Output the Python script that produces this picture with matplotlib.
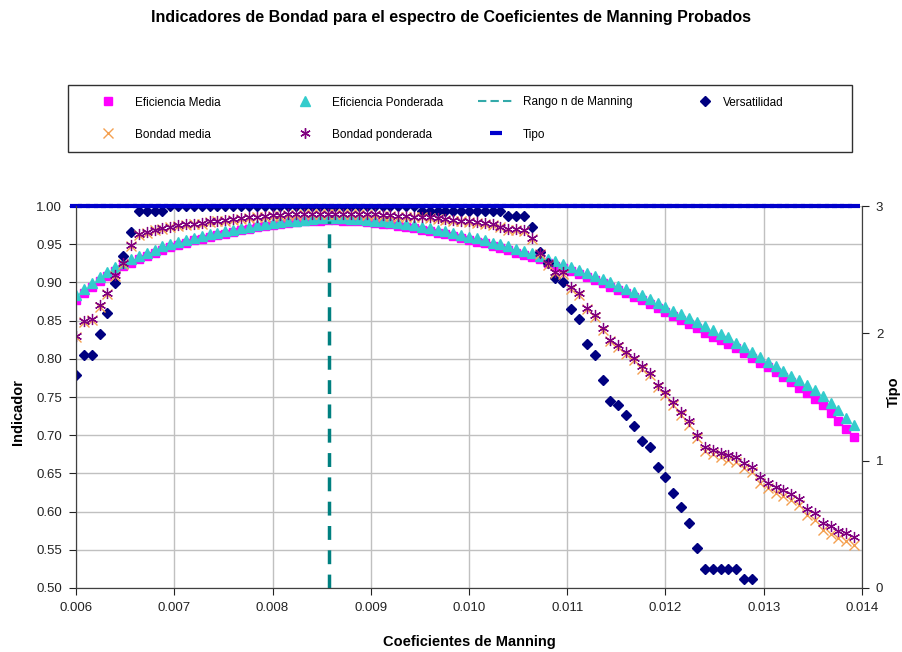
import numpy as np
import matplotlib
matplotlib.use("Agg")
from matplotlib import pyplot as plt
from matplotlib.lines import Line2D
from matplotlib.patches import Rectangle

plt.rcParams['font.family'] = ['Liberation Sans', 'DejaVu Sans']

# Coeficientes de Manning probados
n_manning = np.linspace(0.006, 0.01392, 100)

efic_media = [
    0.877, 0.886, 0.894, 0.902, 0.909, 0.915, 0.921, 0.926, 0.931, 0.935,
    0.939, 0.943, 0.946, 0.949, 0.952, 0.955, 0.957, 0.960, 0.962, 0.964,
    0.966, 0.968, 0.970, 0.972, 0.974, 0.975, 0.977, 0.978, 0.979, 0.980,
    0.981, 0.981, 0.982, 0.982, 0.981, 0.981, 0.980, 0.979, 0.978, 0.977,
    0.976, 0.974, 0.973, 0.971, 0.969, 0.967, 0.965, 0.963, 0.961, 0.958,
    0.956, 0.953, 0.951, 0.948, 0.945, 0.942, 0.939, 0.936, 0.933, 0.930,
    0.926, 0.922, 0.919, 0.915, 0.911, 0.907, 0.903, 0.899, 0.894, 0.890,
    0.886, 0.881, 0.877, 0.872, 0.866, 0.861, 0.856, 0.851, 0.845, 0.840,
    0.834, 0.829, 0.824, 0.819, 0.814, 0.808, 0.801, 0.795, 0.789, 0.783,
    0.776, 0.769, 0.762, 0.755, 0.747, 0.739, 0.729, 0.719, 0.708, 0.697,
]

efic_ponderada = [
    0.883, 0.891, 0.899, 0.907, 0.914, 0.920, 0.925, 0.930, 0.935, 0.939,
    0.943, 0.947, 0.950, 0.953, 0.956, 0.958, 0.961, 0.963, 0.965, 0.967,
    0.969, 0.971, 0.973, 0.975, 0.976, 0.978, 0.979, 0.980, 0.981, 0.982,
    0.983, 0.984, 0.984, 0.984, 0.984, 0.983, 0.983, 0.982, 0.981, 0.980,
    0.979, 0.978, 0.976, 0.975, 0.973, 0.971, 0.969, 0.967, 0.965, 0.962,
    0.960, 0.958, 0.955, 0.952, 0.950, 0.947, 0.944, 0.941, 0.938, 0.935,
    0.931, 0.928, 0.924, 0.920, 0.916, 0.912, 0.908, 0.904, 0.900, 0.895,
    0.891, 0.887, 0.883, 0.878, 0.873, 0.868, 0.863, 0.858, 0.853, 0.848,
    0.843, 0.838, 0.833, 0.828, 0.821, 0.815, 0.809, 0.803, 0.796, 0.790,
    0.784, 0.778, 0.772, 0.766, 0.759, 0.751, 0.742, 0.733, 0.723, 0.713,
]

versatilidad = [
    0.779, 0.805, 0.805, 0.832, 0.860, 0.899, 0.934, 0.966, 0.993, 0.993,
    0.993, 0.993, 1.000, 1.000, 1.000, 1.000, 1.000, 1.000, 1.000, 1.000,
    1.000, 1.000, 1.000, 1.000, 1.000, 1.000, 1.000, 1.000, 1.000, 1.000,
    1.000, 1.000, 1.000, 1.000, 1.000, 1.000, 1.000, 1.000, 1.000, 1.000,
    1.000, 1.000, 1.000, 1.000, 0.993, 0.993, 0.993, 0.993, 0.993, 0.993,
    0.993, 0.993, 0.993, 0.993, 0.993, 0.987, 0.987, 0.987, 0.973, 0.940,
    0.925, 0.906, 0.900, 0.865, 0.852, 0.819, 0.805, 0.772, 0.745, 0.739,
    0.726, 0.712, 0.692, 0.685, 0.659, 0.645, 0.625, 0.606, 0.585, 0.552,
    0.525, 0.525, 0.525, 0.525, 0.525, 0.512, 0.512, np.nan, np.nan, np.nan,
    np.nan, np.nan, np.nan, np.nan, np.nan, np.nan, np.nan, np.nan, np.nan, np.nan,
]

bondad_media = [
    0.828, 0.848, 0.851, 0.868, 0.885, 0.909, 0.924, 0.948, 0.962, 0.965,
    0.968, 0.970, 0.972, 0.974, 0.975, 0.976, 0.977, 0.979, 0.980, 0.981,
    0.982, 0.983, 0.984, 0.985, 0.986, 0.987, 0.987, 0.988, 0.988, 0.989,
    0.989, 0.989, 0.989, 0.989, 0.989, 0.989, 0.989, 0.988, 0.988, 0.987,
    0.987, 0.986, 0.986, 0.985, 0.985, 0.984, 0.983, 0.982, 0.981, 0.980,
    0.979, 0.978, 0.977, 0.975, 0.972, 0.969, 0.969, 0.967, 0.957, 0.937,
    0.923, 0.912, 0.911, 0.892, 0.884, 0.865, 0.855, 0.838, 0.823, 0.815,
    0.806, 0.798, 0.787, 0.779, 0.763, 0.752, 0.739, 0.727, 0.714, 0.696,
    0.679, 0.675, 0.672, 0.668, 0.665, 0.657, 0.652, 0.638, 0.631, 0.625,
    0.620, 0.615, 0.608, 0.595, 0.589, 0.576, 0.571, 0.565, 0.561, 0.556,
]

bondad_ponderada = [
    0.830, 0.849, 0.852, 0.870, 0.886, 0.910, 0.925, 0.949, 0.963, 0.966,
    0.969, 0.971, 0.973, 0.975, 0.976, 0.977, 0.978, 0.980, 0.981, 0.982,
    0.983, 0.984, 0.985, 0.986, 0.987, 0.988, 0.988, 0.989, 0.989, 0.990,
    0.990, 0.990, 0.990, 0.990, 0.990, 0.990, 0.990, 0.989, 0.989, 0.988,
    0.988, 0.987, 0.987, 0.986, 0.986, 0.985, 0.984, 0.983, 0.982, 0.981,
    0.980, 0.979, 0.978, 0.976, 0.973, 0.970, 0.970, 0.968, 0.958, 0.938,
    0.925, 0.914, 0.913, 0.894, 0.886, 0.867, 0.857, 0.840, 0.825, 0.818,
    0.809, 0.801, 0.790, 0.782, 0.766, 0.756, 0.743, 0.731, 0.718, 0.700,
    0.684, 0.680, 0.677, 0.674, 0.671, 0.663, 0.659, 0.645, 0.638, 0.632,
    0.628, 0.623, 0.617, 0.604, 0.598, 0.585, 0.581, 0.575, 0.572, 0.567,
]

# Tipo (eje secundario), todos los puntos en 3
tipo = [3] * len(n_manning)

# Rango n de Manning (linea vertical)
rango_x = [0.00857, 0.00857]
rango_y = [0.50, 0.98]

W, H = 902, 652
fig = plt.figure(figsize=(W / 100, H / 100), dpi=100)
ax = fig.add_axes([76 / W, 64 / H, 786 / W, 382 / H])
ax2 = ax.twinx()

ax.plot(n_manning, efic_media, ls='none', marker='s', ms=6.2, color='#FF00FF', mec='#FF00FF', zorder=3)
ax.plot(n_manning, efic_ponderada, ls='none', marker='^', ms=6.5, color='#33CCCC', mec='#33CCCC', zorder=4)
ax.plot(rango_x, rango_y, color='#008080', lw=2.5, dashes=(4, 3), zorder=4)
ax.plot(n_manning, versatilidad, ls='none', marker='D', ms=5.2, color='#000080', mec='#000080', zorder=5)
ax.plot(n_manning, bondad_media, ls='none', marker='x', ms=7, color='#F4A050', mew=1.0, zorder=6)
ax.plot(n_manning, bondad_ponderada, ls='none', marker=(6, 2, 0), ms=8, color='#800080', mew=0.9, zorder=7)
ax2.plot(n_manning, tipo, ls='none', marker='_', ms=8, mew=3, color='#0000CC', clip_on=False)

ax.set_xlim(0.006, 0.014)
ax.set_ylim(0.50, 1.00)
ax2.set_ylim(0, 3)
ax.set_xticks(np.arange(0.006, 0.01401, 0.001))
ax.set_xticklabels(['%.3f' % v for v in np.arange(0.006, 0.01401, 0.001)])
ax.set_yticks(np.arange(0.50, 1.001, 0.05))
ax.set_yticklabels(['%.2f' % v for v in np.arange(0.50, 1.001, 0.05)])
ax2.set_yticks([0, 1, 2, 3])

ax.grid(True, color='#C0C0C0', lw=1)
ax.set_axisbelow(True)
for a in (ax, ax2):
    a.spines['top'].set_visible(False)
    for s in ('left', 'bottom', 'right'):
        a.spines[s].set_color('#404040')
ax.tick_params(labelsize=9.5, colors='#222222', length=5, pad=5)
ax2.tick_params(labelsize=9.5, colors='#222222', length=5, pad=5)

ax.set_xlabel('Coeficientes de Manning', fontsize=10.5, fontweight='bold', labelpad=15)
ax.set_ylabel('Indicador', fontsize=10.5, fontweight='bold')
ax2.set_ylabel('Tipo', fontsize=10.5, fontweight='bold')
ax.yaxis.set_label_coords((25 - 76) / 786, 0.46)
ax2.yaxis.set_label_coords((887 - 76) / 786, 0.513)

fig.suptitle('Indicadores de Bondad para el espectro de Coeficientes de Manning Probados',
             fontsize=11.5, fontweight='bold', y=1 - 10 / H, va='top')

# leyenda: cuatro columnas dentro de un marco
h_em = Line2D([], [], ls='none', marker='s', ms=6, color='#FF00FF')
h_bm = Line2D([], [], ls='none', marker='x', ms=6.5, color='#F4A050')
h_ep = Line2D([], [], ls='none', marker='^', ms=6.5, color='#33CCCC')
h_bp = Line2D([], [], ls='none', marker=(6, 2, 0), ms=7.5, color='#800080')
h_rg = Line2D([], [], color='#33AAAA', lw=1.5, dashes=(4, 2))
h_tp = Line2D([], [], ls='none', marker='_', ms=8, mew=3, color='#0000CC')
h_vs = Line2D([], [], ls='none', marker='D', ms=5, color='#000080')

columnas = [
    (90, 3.0, [h_em, h_bm], ['Eficiencia Media', 'Bondad media']),
    (287, 3.0, [h_ep, h_bp], ['Eficiencia Ponderada', 'Bondad ponderada']),
    (478, 3.0, [h_rg, h_tp], ['Rango n de Manning', 'Tipo']),
    (696, 1.5, [h_vs], ['Versatilidad']),
]
for x0, hl, hs, ls in columnas:
    fig.legend(hs, ls, loc='upper left', bbox_to_anchor=(x0 / W, 1 - 96.5 / H),
               borderaxespad=0, borderpad=0, fontsize=8.5, frameon=False,
               labelspacing=1.7, handlelength=hl, handletextpad=0.8)

fig.add_artist(Rectangle((68 / W, 1 - 152 / H), 784 / W, 67 / H, transform=fig.transFigure,
                         fill=False, edgecolor='#303030', lw=1.0))

fig.savefig('out.png', dpi=100)
